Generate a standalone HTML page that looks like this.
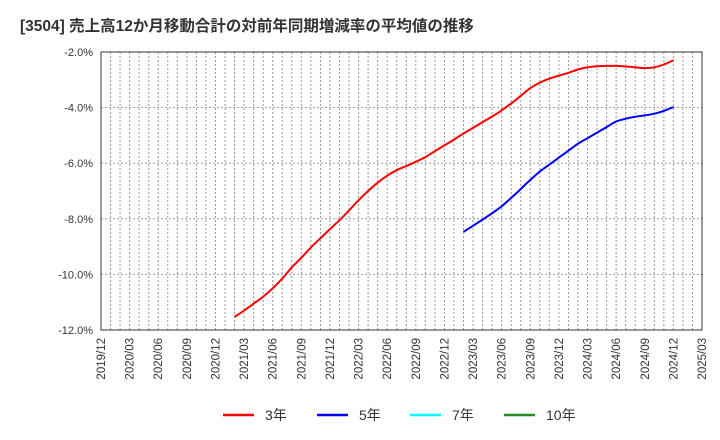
<!DOCTYPE html>
<html><head><meta charset="utf-8">
<style>
body{margin:0;background:#fff;}
svg{display:block;font-family:"Liberation Sans","Noto Sans CJK JP",sans-serif;}
</style></head>
<body>
<svg id="chart" width="720" height="440" xmlns="http://www.w3.org/2000/svg">
<text x="20" y="31" font-size="15.5" font-weight="bold" fill="#333">[3504]  売上高12か月移動合計の対前年同期増減率の平均値の推移</text>
<g id="grid"></g>
<g id="axes"></g>
<g id="series"></g>
<g id="legend"></g>
</svg>
<script>
const xLabels=["2019/12","2020/03","2020/06","2020/09","2020/12","2021/03","2021/06","2021/09","2021/12","2022/03","2022/06","2022/09","2022/12","2023/03","2023/06","2023/09","2023/12","2024/03","2024/06","2024/09","2024/12","2025/03"];
const yTicks=[-2,-4,-6,-8,-10,-12];
const red3Start=14;
const red3=[-11.53,-11.3,-11.05,-10.8,-10.5,-10.15,-9.75,-9.4,-9.03,-8.7,-8.37,-8.05,-7.7,-7.33,-7.0,-6.7,-6.45,-6.25,-6.1,-5.95,-5.78,-5.57,-5.36,-5.15,-4.93,-4.73,-4.52,-4.32,-4.1,-3.85,-3.58,-3.3,-3.1,-2.96,-2.85,-2.75,-2.63,-2.55,-2.51,-2.5,-2.5,-2.52,-2.55,-2.58,-2.55,-2.45,-2.3];
const blue5Start=38;
const blue5=[-8.47,-8.25,-8.03,-7.8,-7.55,-7.25,-6.93,-6.6,-6.3,-6.05,-5.8,-5.55,-5.3,-5.1,-4.9,-4.7,-4.5,-4.4,-4.33,-4.28,-4.22,-4.12,-3.98];
const legendLabels=["3年","5年","7年","10年"];
const legendColors=["#ff0000","#0000ff","#00ffff","#228b22"];

const L=101,R=702,T=52,B=330,months=63;
const xs=m=>L+(R-L)*m/months;
const ys=v=>T+(B-T)*(-2-v)/10;
const NS="http://www.w3.org/2000/svg";
function mk(tag,attrs,parent){const e=document.createElementNS(NS,tag);for(const k in attrs)e.setAttribute(k,attrs[k]);parent.appendChild(e);return e;}
const grid=document.getElementById('grid'),axes=document.getElementById('axes'),series=document.getElementById('series'),legend=document.getElementById('legend');
for(let m=1;m<months;m++){const g=mk('line',{x1:xs(m),x2:xs(m),y1:T,y2:B,stroke:'#999','stroke-width':1,'stroke-dasharray':'2,2'},grid);
}
yTicks.forEach(v=>{if(v!==-2&&v!==-12){const g=mk('line',{x1:L,x2:R,y1:ys(v),y2:ys(v),stroke:'#999','stroke-width':1,'stroke-dasharray':'2,2'},grid);
}
const t=mk('text',{x:L-8,y:ys(v)+4,'text-anchor':'end','font-size':11,fill:'#333'},axes);t.textContent=v.toFixed(1)+'%';
});
const fr=mk('rect',{x:L,y:T,width:R-L,height:B-T,fill:'none',stroke:'#333','stroke-width':1},axes);

xLabels.forEach((lab,i)=>{const x=xs(i*3);const t=mk('text',{x:0,y:0,'text-anchor':'end','font-size':11.5,fill:'#333',transform:`translate(${x+4},${B+8}) rotate(-90)`},axes);t.textContent=lab;
});
function line(data,start,color,name){
const P=data.map((v,i)=>[xs(start+i),ys(v)]);
let d='M'+P[0][0].toFixed(1)+','+P[0][1].toFixed(1);
for(let i=0;i<P.length-1;i++){const p0=P[i-1]||P[i],p1=P[i],p2=P[i+1],p3=P[i+2]||p2;
const c1=[p1[0]+(p2[0]-p0[0])/6,p1[1]+(p2[1]-p0[1])/6],c2=[p2[0]-(p3[0]-p1[0])/6,p2[1]-(p3[1]-p1[1])/6];
d+='C'+c1[0].toFixed(1)+','+c1[1].toFixed(1)+' '+c2[0].toFixed(1)+','+c2[1].toFixed(1)+' '+p2[0].toFixed(1)+','+p2[1].toFixed(1);}
const p=mk('path',{d:d,fill:'none',stroke:color,'stroke-width':2,'stroke-linejoin':'round'},series);
}
line(red3,red3Start,'#ff0000','line-3yr');
line(blue5,blue5Start,'#0000ff','line-5yr');
const lx=[223,317,410,504];
legendLabels.forEach((lab,i)=>{const g=mk('g',{},legend);
mk('line',{x1:lx[i],x2:lx[i]+31,y1:415,y2:415,stroke:legendColors[i],'stroke-width':2.5},g);
const t=mk('text',{x:lx[i]+42,y:420,'font-size':14,fill:'#333'},g);t.textContent=lab;});
</script>
</body></html>
